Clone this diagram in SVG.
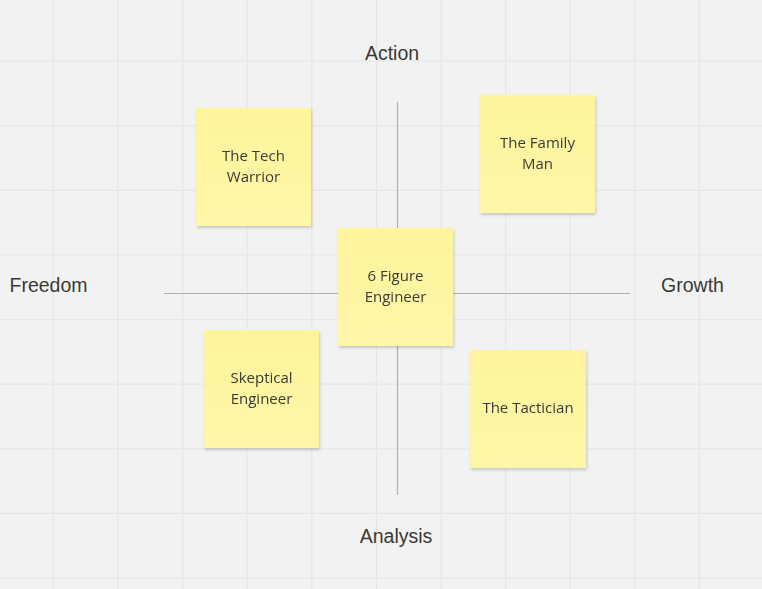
<svg xmlns="http://www.w3.org/2000/svg" width="762" height="589" viewBox="0 0 762 589">
<defs>
<style>
.grid line{stroke:#e6e6e6;stroke-width:1.2}
.axis{stroke:#b0b0b0;stroke-width:1.2;fill:none}
.lbl{font-family:"Liberation Sans",Arial,sans-serif;font-size:19.5px;fill:#3a3a34;text-anchor:middle}
.note rect.paper{fill:url(#paper)}
.note text{font-family:"Open Sans","Noto Sans",sans-serif;font-size:15px;fill:#3a3a36;text-anchor:middle}
</style>
<linearGradient id="paper" x1="0" y1="0" x2="0" y2="1">
<stop offset="0" stop-color="#fef49c"/>
<stop offset="1" stop-color="#fff7a8"/>
</linearGradient>
<filter id="sh" x="-10%" y="-10%" width="130%" height="130%">
<feGaussianBlur in="SourceAlpha" stdDeviation="1.5"/>
<feOffset dx="1" dy="2" result="b"/>
<feComponentTransfer><feFuncA type="linear" slope="0.18"/></feComponentTransfer>
<feMerge><feMergeNode/><feMergeNode in="SourceGraphic"/></feMerge>
</filter>
</defs>
<rect width="762" height="589" fill="#f2f2f2"/>
<g class="grid">
<line x1="53.3" y1="0" x2="53.3" y2="589"/>
<line x1="118" y1="0" x2="118" y2="589"/>
<line x1="182.6" y1="0" x2="182.6" y2="589"/>
<line x1="247.2" y1="0" x2="247.2" y2="589"/>
<line x1="311.8" y1="0" x2="311.8" y2="589"/>
<line x1="376.4" y1="0" x2="376.4" y2="589"/>
<line x1="441" y1="0" x2="441" y2="589"/>
<line x1="505.6" y1="0" x2="505.6" y2="589"/>
<line x1="570.2" y1="0" x2="570.2" y2="589"/>
<line x1="634.8" y1="0" x2="634.8" y2="589"/>
<line x1="699.4" y1="0" x2="699.4" y2="589"/>
<line x1="0" y1="61" x2="762" y2="61"/>
<line x1="0" y1="125.7" x2="762" y2="125.7"/>
<line x1="0" y1="190.3" x2="762" y2="190.3"/>
<line x1="0" y1="255" x2="762" y2="255"/>
<line x1="0" y1="319.6" x2="762" y2="319.6"/>
<line x1="0" y1="384.2" x2="762" y2="384.2"/>
<line x1="0" y1="448.8" x2="762" y2="448.8"/>
<line x1="0" y1="513.4" x2="762" y2="513.4"/>
<line x1="0" y1="578" x2="762" y2="578"/>
</g>
<g id="connectors">
<line class="axis" x1="164" y1="293.5" x2="630" y2="293.5"/>
<line class="axis" x1="397.5" y1="102" x2="397.5" y2="495"/>
</g>
<g id="labels">
<text class="lbl" x="392" y="60">Action</text>
<text class="lbl" x="396" y="543">Analysis</text>
<text class="lbl" x="48.5" y="292">Freedom</text>
<text class="lbl" x="692.5" y="292">Growth</text>
</g>
<g id="tech-warrior" class="note" filter="url(#sh)">
<rect class="paper" x="196" y="108" width="115" height="118"/>
<text x="253.5" y="161">The Tech</text>
<text x="253.5" y="182">Warrior</text>
</g>
<g id="family-man" class="note" filter="url(#sh)">
<rect class="paper" x="480" y="95" width="115" height="118"/>
<text x="537.5" y="148">The Family</text>
<text x="537.5" y="169">Man</text>
</g>
<g id="six-figure" class="note" filter="url(#sh)">
<rect class="paper" x="338" y="228" width="115" height="118"/>
<text x="395.5" y="281">6 Figure</text>
<text x="395.5" y="302">Engineer</text>
</g>
<g id="skeptical" class="note" filter="url(#sh)">
<rect class="paper" x="204" y="330" width="115" height="118"/>
<text x="261.5" y="383">Skeptical</text>
<text x="261.5" y="404">Engineer</text>
</g>
<g id="tactician" class="note" filter="url(#sh)">
<rect class="paper" x="470" y="350" width="116" height="118"/>
<text x="528" y="413">The Tactician</text>
</g>
</svg>
